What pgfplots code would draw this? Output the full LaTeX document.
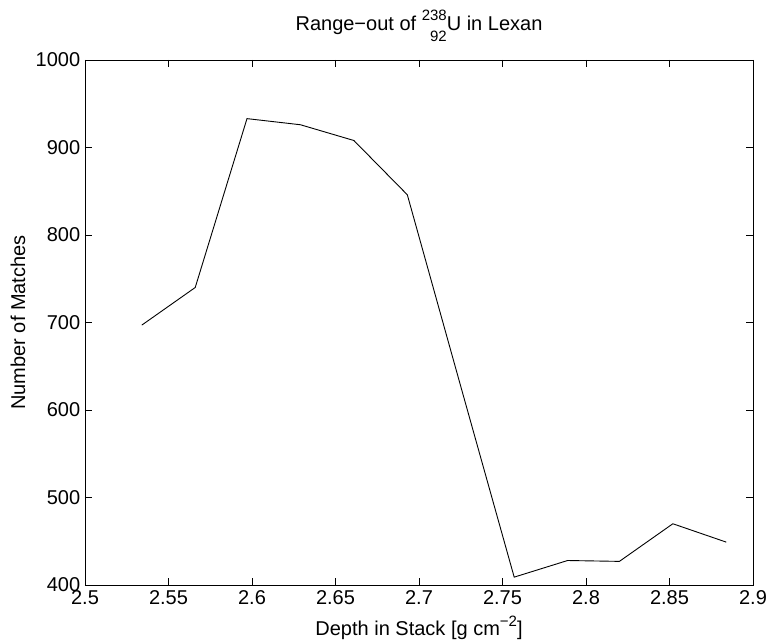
\documentclass[border=0pt]{standalone}
\usepackage{pgfplots}
\pgfplotsset{compat=1.18}
\usepackage{fontspec}
\setmainfont{Liberation Sans}
\newlength\isow
\newcommand\iso[2]{{\fontsize{15}{15}\selectfont\settowidth\isow{#1}\makebox[\isow][r]{\raisebox{10pt}{#1}}\llap{\raisebox{-11pt}{#2}}}}
\begin{document}
\fontsize{20}{24}\selectfont
\begin{tikzpicture}[x=1pt,y=1pt]
\begin{axis}[
  at={(0,0)}, anchor=south west,
  scale only axis, width=668pt, height=525pt,
  xmin=2.5, xmax=2.9, ymin=400, ymax=1000,
  xtick={2.5,2.55,...,2.9},
  ytick={400,500,...,1000},
  tick align=inside,
  major tick length=7pt,
  tick style={black, line width=0.6pt},
  axis line style={black, line width=0.8pt},
  /pgf/number format/assume math mode=true,
  /pgf/number format/1000 sep={},
  xticklabel style={/pgf/number format/fixed, /pgf/number format/precision=2, font=\fontsize{20}{24}\selectfont, yshift=1pt},
  yticklabel style={font=\fontsize{20}{24}\selectfont, xshift=2pt},
  title={Range−out of \iso{238}{92}U in Lexan},
  title style={font=\fontsize{20}{24}\selectfont, at={(axis description cs:0.5,1)}, anchor=base, yshift=23pt},
  xlabel={Depth in Stack [g cm\raisebox{9pt}{\fontsize{15}{15}\selectfont −2}]},
  xlabel style={font=\fontsize{20}{24}\selectfont, at={(axis description cs:0.5,0)}, anchor=base, yshift=-50pt},
  ylabel={Number of Matches},
  ylabel style={font=\fontsize{20}{24}\selectfont, at={(axis description cs:0,0.5)}, anchor=center, xshift=0pt, yshift=67pt},
]
\addplot[black, line width=0.9pt] coordinates {
(2.534,697) (2.566,740) (2.597,933) (2.629,926) (2.661,908) (2.693,846)
(2.725,627) (2.757,409) (2.789,428) (2.820,427) (2.852,470) (2.884,449)
};
\end{axis}
\pgfresetboundingbox
\useasboundingbox (-85,-56) rectangle (685,585);
\end{tikzpicture}
\end{document}
